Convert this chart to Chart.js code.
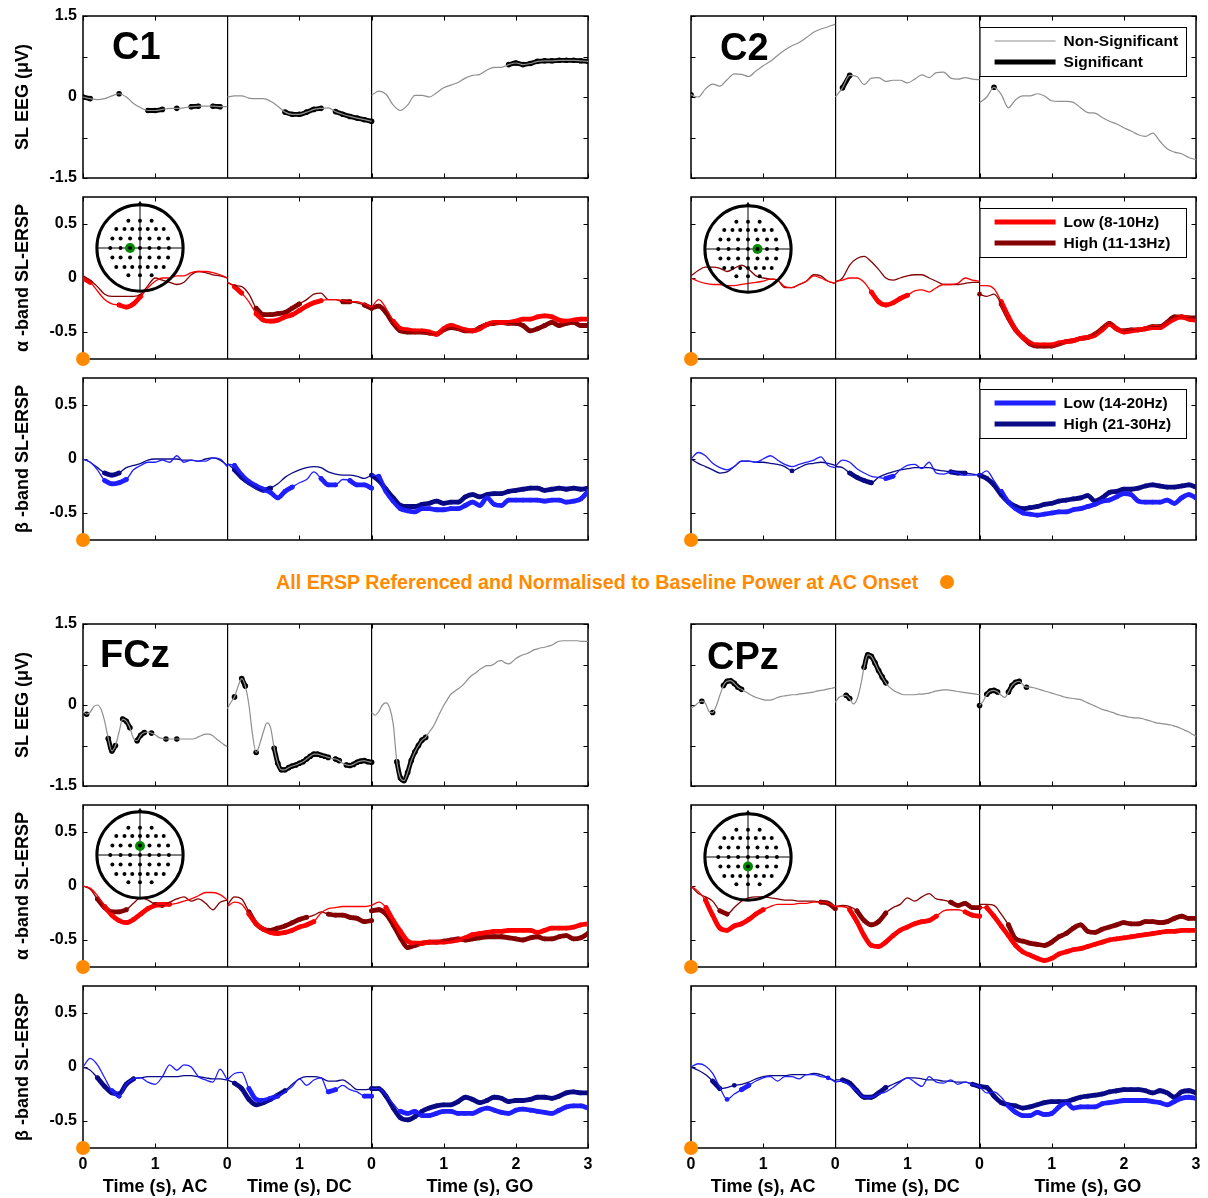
<!DOCTYPE html>
<html>
<head>
<meta charset="utf-8">
<script src="https://cdn.jsdelivr.net/npm/chart.js@4.4.0/dist/chart.umd.min.js"></script>
<style>
  body { margin: 0; background: #fff; width: 1208px; height: 1198px; position: relative; overflow: hidden;
         font-family: "Liberation Sans", Arial, Helvetica, sans-serif; }
  canvas { position: absolute; }
  #note { position: absolute; left: 276px; top: 570px; font-size: 19.7px; line-height: 24px; font-weight: bold;
          color: #ff8a00; white-space: nowrap; }
  #noteDot { position: absolute; left: 940px; top: 575px; width: 14px; height: 14px; border-radius: 50%; background: #ff8a00; }
</style>
</head>
<body>
<div id="note">All ERSP Referenced and Normalised to Baseline Power at AC Onset</div>
<span id="noteDot"></span>
<script>
"use strict";

// Time axis: three epochs laid end to end (AC 0-2 s, DC 0-2 s, GO 0-3 s)
const segStart = [0, 2, 4];
const segLength = [2, 2, 3];
const segNames = ["AC", "DC", "GO"];
const xTickLabels = ["0", "1", "0", "1", "0", "1", "2", "3"];
const eegTicks = [-1.5, -0.75, 0, 0.75, 1.5];
const eegTickLabels = ["-1.5", "", "0", "", "1.5"];
const erspTicks = [-0.5, 0, 0.5];
const erspTickLabels = ["-0.5", "0", "0.5"];

// ---- C1 ----
const c1Eeg = [
  [0.0,-0.03,-0.05,-0.03,0.02,0.06,0.0,-0.12,-0.2,-0.25,-0.25,-0.23,-0.21,-0.21,-0.2,-0.18,-0.17,-0.17,-0.17,-0.18,-0.18],
  [0.0,0.02,0.02,-0.02,-0.03,-0.03,-0.08,-0.17,-0.28,-0.32,-0.32,-0.28,-0.23,-0.21,-0.2,-0.27,-0.32,-0.36,-0.39,-0.42,-0.45],
  [0.03,0.11,0.05,-0.15,-0.25,-0.15,0.03,0.03,0.0,0.08,0.17,0.22,0.27,0.35,0.4,0.42,0.5,0.55,0.55,0.6,0.63,0.6,0.62,0.66,0.67,0.67,0.68,0.68,0.68,0.67,0.66]
];
const c1EegSig = [[0,0,0.1],[0,0.5,0.5],[0,0.9,1.1],[0,1.3,1.3],[0,1.5,1.6],[0,1.8,1.9],[1,0.8,1.3],[1,1.5,2.0],[2,1.9,3.0]];
const c1AlphaLow = [
  [0.0,-0.04,-0.12,-0.2,-0.24,-0.25,-0.27,-0.24,-0.17,-0.09,-0.03,0.0,0.0,0.02,0.02,0.05,0.06,0.06,0.05,0.03,0.0],
  [-0.04,-0.08,-0.14,-0.22,-0.33,-0.39,-0.4,-0.39,-0.36,-0.34,-0.3,-0.26,-0.23,-0.21,-0.2,-0.2,-0.21,-0.22,-0.22,-0.24,-0.27],
  [-0.27,-0.2,-0.28,-0.4,-0.47,-0.48,-0.49,-0.49,-0.5,-0.52,-0.47,-0.44,-0.46,-0.48,-0.49,-0.47,-0.43,-0.41,-0.41,-0.41,-0.4,-0.38,-0.38,-0.36,-0.35,-0.36,-0.39,-0.4,-0.39,-0.38,-0.38]
];
const c1AlphaLowSig = [[0,0,0.15],[0,0.5,0.85],[1,0.1,0.2],[1,0.4,1.3],[2,0.3,3.0]];
const c1AlphaHigh = [
  [0.02,-0.02,-0.08,-0.15,-0.17,-0.17,-0.17,-0.17,-0.15,-0.07,0.0,-0.02,-0.04,-0.06,-0.04,0.03,0.06,0.05,0.03,0.02,0.0],
  [-0.04,-0.07,-0.08,-0.15,-0.28,-0.34,-0.34,-0.33,-0.32,-0.28,-0.24,-0.2,-0.15,-0.14,-0.2,-0.2,-0.22,-0.22,-0.23,-0.25,-0.28],
  [-0.28,-0.26,-0.32,-0.42,-0.49,-0.5,-0.5,-0.5,-0.51,-0.52,-0.48,-0.46,-0.47,-0.49,-0.49,-0.46,-0.43,-0.42,-0.41,-0.42,-0.42,-0.44,-0.49,-0.47,-0.44,-0.41,-0.44,-0.42,-0.41,-0.44,-0.44]
];
const c1AlphaHighSig = [[1,0.4,1.0],[1,1.6,1.7],[1,1.9,2.0],[2,0,3.0]];
const c1BetaLow = [
  [0.0,-0.03,-0.1,-0.2,-0.23,-0.22,-0.19,-0.1,-0.06,-0.03,-0.03,-0.01,-0.03,0.03,-0.03,-0.01,-0.02,-0.02,0.01,0.0,-0.07],
  [-0.05,-0.06,-0.15,-0.21,-0.25,-0.28,-0.31,-0.36,-0.3,-0.26,-0.22,-0.19,-0.12,-0.18,-0.24,-0.24,-0.19,-0.2,-0.24,-0.24,-0.27],
  [-0.15,-0.16,-0.3,-0.39,-0.46,-0.48,-0.49,-0.46,-0.46,-0.47,-0.47,-0.46,-0.46,-0.43,-0.4,-0.43,-0.36,-0.42,-0.43,-0.38,-0.38,-0.38,-0.38,-0.38,-0.39,-0.38,-0.38,-0.4,-0.39,-0.37,-0.3]
];
const c1BetaLowSig = [[0,0.25,0.65],[1,0.1,0.9],[1,1.3,1.5],[1,1.7,1.8],[1,1.9,2.0],[2,0.05,3.0]];
const c1BetaHigh = [
  [0.0,-0.03,-0.08,-0.13,-0.15,-0.13,-0.08,-0.06,-0.04,-0.01,0.0,0.0,0.0,0.0,-0.01,-0.01,-0.02,0.0,0.01,-0.01,-0.06],
  [-0.04,-0.1,-0.17,-0.22,-0.26,-0.29,-0.27,-0.23,-0.17,-0.13,-0.1,-0.08,-0.07,-0.08,-0.12,-0.14,-0.15,-0.15,-0.16,-0.18,-0.15],
  [-0.15,-0.2,-0.28,-0.36,-0.43,-0.44,-0.44,-0.42,-0.41,-0.39,-0.41,-0.4,-0.4,-0.35,-0.33,-0.35,-0.33,-0.32,-0.32,-0.3,-0.29,-0.28,-0.27,-0.27,-0.29,-0.28,-0.27,-0.28,-0.27,-0.28,-0.27]
];
const c1BetaHighSig = [[0,0.25,0.55],[1,0.1,0.6],[2,0,3.0]];

// ---- C2 ----
const c2Eeg = [
  [0.04,0.0,0.15,0.24,0.2,0.32,0.43,0.42,0.38,0.48,0.58,0.66,0.77,0.87,0.95,1.01,1.1,1.2,1.26,1.3,1.35],
  [0.0,0.17,0.4,0.38,0.23,0.35,0.36,0.29,0.31,0.31,0.26,0.33,0.41,0.36,0.45,0.46,0.35,0.33,0.36,0.33,0.32],
  [-0.11,0.0,0.18,0.05,-0.2,-0.05,0.02,0.02,0.06,0.02,-0.07,-0.08,-0.08,-0.1,-0.2,-0.29,-0.3,-0.38,-0.45,-0.5,-0.57,-0.63,-0.7,-0.73,-0.67,-0.82,-0.96,-1.02,-1.05,-1.12,-1.16]
];
const c2EegSig = [[0,0,0],[1,0.1,0.2],[2,0.2,0.2]];
const c2AlphaLow = [
  [0.0,-0.03,-0.05,-0.06,-0.06,-0.07,-0.07,-0.06,-0.05,-0.04,-0.03,-0.01,-0.02,-0.08,-0.09,-0.06,-0.03,0.02,0.0,-0.03,-0.05],
  [-0.03,-0.02,0.0,0.0,-0.04,-0.13,-0.22,-0.25,-0.23,-0.19,-0.16,-0.12,-0.11,-0.13,-0.09,-0.06,-0.06,-0.05,0.0,-0.02,-0.03],
  [-0.07,-0.07,-0.1,-0.22,-0.36,-0.48,-0.55,-0.6,-0.62,-0.62,-0.62,-0.6,-0.59,-0.58,-0.56,-0.55,-0.53,-0.48,-0.43,-0.47,-0.5,-0.49,-0.48,-0.47,-0.46,-0.46,-0.42,-0.38,-0.36,-0.38,-0.39]
];
const c2AlphaLowSig = [[1,0.5,1.0],[2,0.3,3.0]];
const c2AlphaHigh = [
  [0.02,0.07,0.1,0.1,0.09,0.06,0.09,0.12,0.08,0.02,0.0,-0.01,-0.02,-0.09,-0.09,-0.06,-0.03,0.03,0.02,-0.03,-0.05],
  [-0.04,0.0,0.12,0.18,0.2,0.15,0.08,0.0,-0.02,0.0,0.02,0.03,0.03,0.0,-0.03,-0.06,-0.06,-0.06,-0.05,-0.04,-0.04],
  [-0.15,-0.17,-0.15,-0.24,-0.37,-0.48,-0.55,-0.61,-0.63,-0.63,-0.63,-0.61,-0.59,-0.58,-0.56,-0.55,-0.52,-0.47,-0.42,-0.47,-0.49,-0.48,-0.48,-0.47,-0.45,-0.45,-0.41,-0.36,-0.36,-0.37,-0.37]
];
const c2AlphaHighSig = [[2,0,0],[2,0.3,3.0]];
const c2BetaLow = [
  [0.0,0.06,0.03,-0.04,-0.08,-0.1,-0.07,-0.02,-0.02,-0.03,0.0,0.03,-0.01,-0.05,-0.07,-0.05,-0.03,-0.01,0.02,-0.06,-0.08],
  [-0.07,-0.01,-0.03,-0.09,-0.13,-0.16,-0.17,-0.18,-0.16,-0.1,-0.06,-0.05,-0.09,-0.03,-0.13,-0.14,-0.12,-0.13,-0.15,-0.15,-0.14],
  [-0.15,-0.11,-0.2,-0.3,-0.4,-0.46,-0.5,-0.51,-0.52,-0.51,-0.5,-0.49,-0.49,-0.47,-0.46,-0.44,-0.42,-0.39,-0.38,-0.35,-0.32,-0.33,-0.39,-0.4,-0.4,-0.4,-0.38,-0.41,-0.36,-0.33,-0.36]
];
const c2BetaLowSig = [[1,0.7,0.8],[2,0.25,3.0]];
const c2BetaHigh = [
  [0.0,-0.04,-0.07,-0.1,-0.13,-0.12,-0.07,-0.02,-0.02,-0.03,-0.03,-0.04,-0.05,-0.07,-0.11,-0.08,-0.05,-0.04,-0.03,-0.04,-0.06],
  [-0.07,-0.08,-0.13,-0.17,-0.2,-0.22,-0.17,-0.14,-0.12,-0.1,-0.09,-0.08,-0.08,-0.08,-0.1,-0.11,-0.12,-0.13,-0.13,-0.14,-0.15],
  [-0.15,-0.18,-0.24,-0.33,-0.4,-0.44,-0.46,-0.45,-0.44,-0.42,-0.41,-0.39,-0.38,-0.37,-0.36,-0.34,-0.39,-0.36,-0.31,-0.3,-0.28,-0.28,-0.27,-0.25,-0.24,-0.25,-0.26,-0.26,-0.25,-0.24,-0.26]
];
const c2BetaHighSig = [[0,1.4,1.4],[1,0.2,0.5],[1,1.6,1.8],[2,0,3.0]];

// ---- FCz ---- (EEG sampled every 0.05 s)
const fczEeg = [
  [-0.12,-0.17,-0.13,-0.03,0.0,-0.08,-0.3,-0.62,-0.85,-0.75,-0.5,-0.26,-0.3,-0.42,-0.62,-0.66,-0.56,-0.51,-0.5,-0.52,-0.55,-0.6,-0.62,-0.63,-0.63,-0.63,-0.63,-0.63,-0.63,-0.63,-0.63,-0.62,-0.59,-0.56,-0.54,-0.54,-0.57,-0.63,-0.68,-0.73,-0.77],
  [-0.07,0.05,0.15,0.35,0.49,0.35,0.0,-0.55,-0.88,-0.72,-0.5,-0.33,-0.42,-0.8,-1.08,-1.2,-1.2,-1.16,-1.13,-1.11,-1.08,-1.05,-1.0,-0.95,-0.91,-0.91,-0.93,-0.95,-0.97,-0.99,-1.0,-1.03,-1.08,-1.11,-1.12,-1.1,-1.06,-1.04,-1.03,-1.05,-1.06],
  [-0.14,-0.19,-0.12,0.0,0.04,-0.05,-0.35,-1.05,-1.35,-1.4,-1.25,-1.03,-0.87,-0.75,-0.65,-0.6,-0.5,-0.41,-0.28,-0.14,-0.01,0.1,0.2,0.25,0.3,0.35,0.42,0.5,0.56,0.6,0.66,0.7,0.73,0.73,0.76,0.81,0.82,0.78,0.76,0.8,0.86,0.9,0.93,0.95,0.98,1.02,1.04,1.06,1.07,1.09,1.11,1.15,1.18,1.19,1.19,1.19,1.19,1.19,1.18,1.18,1.18]
];
const fczEegSig = [[0,0.05,0.05],[0,0.35,0.45],[0,0.55,0.65],[0,0.75,0.85],[0,0.95,0.95],[0,1.15,1.15],[0,1.3,1.3],
  [1,0.1,0.1],[1,0.2,0.25],[1,0.4,0.4],[1,0.65,1.4],[1,1.5,1.55],[1,1.65,2.0],[2,0.35,0.75]];
const fczAlphaLow = [
  [0.0,-0.02,-0.09,-0.19,-0.27,-0.32,-0.34,-0.31,-0.26,-0.21,-0.18,-0.17,-0.17,-0.16,-0.14,-0.12,-0.09,-0.06,-0.06,-0.08,-0.13],
  [-0.19,-0.15,-0.17,-0.26,-0.35,-0.4,-0.43,-0.44,-0.43,-0.41,-0.38,-0.36,-0.33,-0.25,-0.21,-0.2,-0.19,-0.19,-0.19,-0.19,-0.18],
  [-0.18,-0.15,-0.2,-0.32,-0.42,-0.51,-0.53,-0.53,-0.52,-0.52,-0.52,-0.51,-0.5,-0.48,-0.45,-0.44,-0.43,-0.42,-0.42,-0.41,-0.41,-0.41,-0.41,-0.43,-0.41,-0.39,-0.39,-0.39,-0.38,-0.36,-0.35]
];
const fczAlphaLowSig = [[0,0.3,1.2],[1,0.3,1.25],[2,0.2,3.0]];
const fczAlphaHigh = [
  [0.0,-0.03,-0.12,-0.2,-0.24,-0.24,-0.22,-0.16,-0.11,-0.13,-0.17,-0.18,-0.15,-0.12,-0.1,-0.14,-0.12,-0.16,-0.22,-0.15,-0.13],
  [-0.18,-0.1,-0.12,-0.24,-0.35,-0.4,-0.41,-0.39,-0.37,-0.34,-0.31,-0.29,-0.27,-0.24,-0.26,-0.27,-0.27,-0.29,-0.3,-0.33,-0.32],
  [-0.23,-0.22,-0.26,-0.36,-0.48,-0.57,-0.55,-0.53,-0.52,-0.52,-0.51,-0.5,-0.49,-0.5,-0.49,-0.48,-0.47,-0.47,-0.47,-0.48,-0.49,-0.5,-0.48,-0.47,-0.49,-0.49,-0.47,-0.46,-0.49,-0.48,-0.44]
];
const fczAlphaHighSig = [[0,0.2,0.6],[0,0.95,1.1],[1,0.25,1.1],[1,1.4,1.5],[1,1.6,1.8],[1,1.9,2.0],[2,0,3.0]];
const fczBetaLow = [
  [0.0,0.08,0.02,-0.1,-0.22,-0.27,-0.16,-0.11,-0.1,-0.14,-0.16,-0.09,0.02,-0.03,0.02,0.0,-0.09,-0.12,-0.14,-0.02,-0.12],
  [-0.12,-0.06,-0.05,-0.2,-0.3,-0.31,-0.29,-0.27,-0.23,-0.18,-0.11,-0.17,-0.12,-0.1,-0.23,-0.21,-0.17,-0.21,-0.23,-0.27,-0.27],
  [-0.2,-0.2,-0.26,-0.34,-0.41,-0.43,-0.41,-0.45,-0.45,-0.43,-0.41,-0.41,-0.43,-0.43,-0.43,-0.4,-0.38,-0.4,-0.42,-0.43,-0.4,-0.39,-0.4,-0.41,-0.42,-0.43,-0.4,-0.37,-0.36,-0.36,-0.38]
];
const fczBetaLowSig = [[0,0.4,0.5],[1,0.3,0.7],[1,1.4,1.5],[1,1.9,2.0],[2,0.35,3.0]];
const fczBetaHigh = [
  [0.0,-0.03,-0.1,-0.18,-0.24,-0.25,-0.16,-0.11,-0.1,-0.09,-0.09,-0.09,-0.09,-0.09,-0.08,-0.08,-0.09,-0.1,-0.11,-0.11,-0.12],
  [-0.12,-0.15,-0.2,-0.3,-0.35,-0.33,-0.3,-0.26,-0.22,-0.16,-0.11,-0.09,-0.09,-0.1,-0.13,-0.13,-0.12,-0.16,-0.21,-0.21,-0.2],
  [-0.2,-0.2,-0.27,-0.38,-0.47,-0.49,-0.46,-0.41,-0.38,-0.36,-0.35,-0.35,-0.32,-0.28,-0.3,-0.33,-0.31,-0.28,-0.29,-0.32,-0.31,-0.31,-0.3,-0.28,-0.28,-0.29,-0.27,-0.24,-0.23,-0.24,-0.24]
];
const fczBetaHighSig = [[0,0.2,0.7],[1,0.1,0.85],[2,0,3.0]];

// ---- CPz ---- (EEG sampled every 0.05 s)
const cpzEeg = [
  [-0.06,-0.02,0.04,0.07,0.03,-0.12,-0.14,-0.02,0.18,0.36,0.44,0.45,0.4,0.33,0.29,0.25,0.21,0.17,0.14,0.12,0.1,0.09,0.09,0.11,0.14,0.16,0.17,0.18,0.19,0.19,0.2,0.21,0.22,0.23,0.24,0.26,0.27,0.28,0.3,0.31,0.33],
  [0.05,0.14,0.17,0.18,0.12,0.02,0.1,0.35,0.7,0.93,0.9,0.78,0.64,0.52,0.41,0.33,0.28,0.24,0.21,0.19,0.19,0.19,0.19,0.2,0.2,0.21,0.22,0.24,0.26,0.27,0.28,0.28,0.27,0.26,0.25,0.24,0.23,0.22,0.21,0.2,0.19],
  [-0.01,0.07,0.2,0.26,0.27,0.24,0.18,0.14,0.24,0.36,0.42,0.44,0.38,0.33,0.33,0.32,0.3,0.28,0.26,0.24,0.22,0.2,0.18,0.16,0.14,0.13,0.12,0.11,0.1,0.07,0.04,0.01,-0.02,-0.05,-0.08,-0.1,-0.12,-0.14,-0.17,-0.19,-0.2,-0.22,-0.23,-0.24,-0.24,-0.25,-0.27,-0.29,-0.31,-0.33,-0.34,-0.35,-0.36,-0.37,-0.39,-0.41,-0.44,-0.47,-0.5,-0.54,-0.58]
];
const cpzEegSig = [[0,0.15,0.15],[0,0.3,0.3],[0,0.45,0.7],[1,0.15,0.2],[1,0.4,0.7],[2,0,0],[2,0.1,0.25],[2,0.4,0.55],[2,0.65,0.65]];
const cpzAlphaLow = [
  [0.0,-0.05,-0.13,-0.27,-0.39,-0.41,-0.37,-0.35,-0.31,-0.26,-0.22,-0.19,-0.17,-0.17,-0.17,-0.16,-0.16,-0.15,-0.15,-0.16,-0.19],
  [-0.19,-0.19,-0.22,-0.33,-0.46,-0.55,-0.56,-0.52,-0.46,-0.41,-0.38,-0.35,-0.33,-0.32,-0.28,-0.23,-0.22,-0.22,-0.24,-0.27,-0.28],
  [-0.2,-0.2,-0.28,-0.37,-0.46,-0.55,-0.61,-0.64,-0.67,-0.69,-0.67,-0.63,-0.61,-0.59,-0.58,-0.56,-0.54,-0.52,-0.5,-0.49,-0.48,-0.47,-0.46,-0.45,-0.44,-0.43,-0.42,-0.42,-0.41,-0.41,-0.41]
];
const cpzAlphaLowSig = [[0,0.15,1.0],[1,0.2,1.45],[1,1.75,2.0],[2,0.1,3.0]];
const cpzAlphaHigh = [
  [0.0,-0.07,-0.1,-0.14,-0.23,-0.26,-0.2,-0.14,-0.11,-0.1,-0.1,-0.11,-0.12,-0.13,-0.13,-0.14,-0.14,-0.14,-0.15,-0.16,-0.21],
  [-0.19,-0.18,-0.19,-0.23,-0.32,-0.36,-0.33,-0.25,-0.2,-0.17,-0.11,-0.14,-0.1,-0.07,-0.12,-0.13,-0.15,-0.18,-0.16,-0.2,-0.2],
  [-0.17,-0.17,-0.18,-0.26,-0.36,-0.49,-0.51,-0.53,-0.54,-0.55,-0.52,-0.47,-0.44,-0.39,-0.36,-0.42,-0.43,-0.4,-0.38,-0.36,-0.34,-0.35,-0.35,-0.33,-0.33,-0.34,-0.33,-0.3,-0.28,-0.3,-0.3]
];
const cpzAlphaHighSig = [[0,0.4,0.55],[0,1.8,2.0],[1,0.3,0.7],[1,1.55,2.0],[2,0.35,3.0]];
const cpzBetaLow = [
  [0.0,0.03,0.01,-0.06,-0.19,-0.3,-0.25,-0.21,-0.17,-0.13,-0.1,-0.09,-0.13,-0.09,-0.09,-0.11,-0.07,-0.07,-0.09,-0.1,-0.14],
  [-0.14,-0.13,-0.17,-0.22,-0.28,-0.28,-0.25,-0.23,-0.19,-0.14,-0.1,-0.14,-0.18,-0.09,-0.14,-0.15,-0.12,-0.16,-0.14,-0.16,-0.18],
  [-0.18,-0.24,-0.23,-0.28,-0.36,-0.42,-0.45,-0.45,-0.42,-0.44,-0.43,-0.37,-0.33,-0.38,-0.37,-0.37,-0.37,-0.34,-0.33,-0.32,-0.31,-0.31,-0.31,-0.31,-0.32,-0.33,-0.35,-0.32,-0.29,-0.28,-0.29]
];
const cpzBetaLowSig = [[0,0.45,0.55],[0,0.7,0.85],[0,1.85,1.95],[2,0.4,3.0]];
const cpzBetaHigh = [
  [0.0,-0.03,-0.07,-0.13,-0.2,-0.19,-0.17,-0.16,-0.14,-0.11,-0.09,-0.08,-0.08,-0.08,-0.07,-0.07,-0.07,-0.06,-0.07,-0.1,-0.13],
  [-0.12,-0.12,-0.15,-0.22,-0.28,-0.28,-0.24,-0.19,-0.16,-0.13,-0.1,-0.1,-0.11,-0.12,-0.12,-0.13,-0.13,-0.14,-0.14,-0.16,-0.18],
  [-0.18,-0.19,-0.27,-0.33,-0.35,-0.36,-0.38,-0.37,-0.35,-0.33,-0.32,-0.32,-0.32,-0.3,-0.28,-0.27,-0.26,-0.25,-0.23,-0.22,-0.21,-0.21,-0.21,-0.22,-0.24,-0.22,-0.24,-0.28,-0.23,-0.22,-0.24]
];
const cpzBetaHighSig = [[0,0.3,0.45],[0,0.6,0.6],[1,0.1,0.7],[1,1.9,2.0],[2,0,3.0]];

// Electrode montage of the head insets (x right, y towards the nose), in head radii
const electrodeRowY = [0.63, 0.44, 0.22, 0, -0.22, -0.44, -0.63];
const electrodeRowX = [
  [-0.27, 0, 0.27],
  [-0.55, -0.36, -0.18, 0, 0.18, 0.37, 0.55],
  [-0.64, -0.45, -0.23, 0, 0.22, 0.44, 0.65],
  [-0.69, -0.45, -0.23, 0, 0.22, 0.44, 0.67],
  [-0.64, -0.45, -0.23, 0, 0.22, 0.44, 0.65],
  [-0.55, -0.36, -0.18, 0, 0.18, 0.37, 0.55],
  [-0.27, 0, 0.27]
];
const siteC1 = [-0.23, 0], siteC2 = [0.22, 0], siteFCz = [0, 0.21], siteCPz = [0, -0.22];

// ---- styles ----
const RED = "#ff0000", DARK_RED = "#850000", BLUE = "#1f1fff", NAVY = "#0a0a85", GREY = "#8f8f8f", ORANGE = "#ff8a00";
const FONT = "'Liberation Sans', Arial, Helvetica, sans-serif";
Chart.defaults.font.family = FONT;
Chart.defaults.font.weight = "bold";
Chart.defaults.color = "#000";

const PT = 12, PR = 10, PH = 162, PW = 505;

const groups = [
  { name: "C1", left: 83, tops: [16, 197, 378], showY: true, showX: false, legend: false, labelPos: [29, 43], head: [140, 248], site: siteC1,
    eeg: [c1Eeg, c1EegSig], alpha: [c1AlphaLow, c1AlphaLowSig, c1AlphaHigh, c1AlphaHighSig], beta: [c1BetaLow, c1BetaLowSig, c1BetaHigh, c1BetaHighSig] },
  { name: "C2", left: 691, tops: [16, 197, 378], showY: false, showX: false, legend: true, labelPos: [29, 44], head: [748, 249], site: siteC2,
    eeg: [c2Eeg, c2EegSig], alpha: [c2AlphaLow, c2AlphaLowSig, c2AlphaHigh, c2AlphaHighSig], beta: [c2BetaLow, c2BetaLowSig, c2BetaHigh, c2BetaHighSig] },
  { name: "FCz", left: 83, tops: [624, 805, 986], showY: true, showX: true, legend: false, labelPos: [17, 43], head: [140, 855], site: siteFCz,
    eeg: [fczEeg, fczEegSig], alpha: [fczAlphaLow, fczAlphaLowSig, fczAlphaHigh, fczAlphaHighSig], beta: [fczBetaLow, fczBetaLowSig, fczBetaHigh, fczBetaHighSig] },
  { name: "CPz", left: 691, tops: [624, 805, 986], showY: false, showX: true, legend: false, labelPos: [16, 45], head: [748, 857], site: siteCPz,
    eeg: [cpzEeg, cpzEegSig], alpha: [cpzAlphaLow, cpzAlphaLowSig, cpzAlphaHigh, cpzAlphaHighSig], beta: [cpzBetaLow, cpzBetaLowSig, cpzBetaHigh, cpzBetaHighSig] }
];

const legends = [
  [{ text: "Non-Significant", color: GREY, width: 1.2 }, { text: "Significant", color: "#000", width: 5 }],
  [{ text: "Low (8-10Hz)", color: RED, width: 5 }, { text: "High (11-13Hz)", color: DARK_RED, width: 5 }],
  [{ text: "Low (14-20Hz)", color: BLUE, width: 5 }, { text: "High (21-30Hz)", color: NAVY, width: 5 }]
];
const yTitles = ["SL EEG (\u03bcV)", "\u03b1 -band SL-ERSP", "\u03b2 -band SL-ERSP"];

// curve -> {x, y} points; with sig only the significant samples are kept
function toPoints(curve, sig) {
  const pts = [];
  curve.forEach((seg, s) => {
    const step = segLength[s] / (seg.length - 1);
    seg.forEach((v, i) => {
      const t = i * step;
      let y = v;
      if (sig && !sig.some(r => r[0] === s && t >= r[1] - 1e-6 && t <= r[2] + 1e-6)) y = null;
      pts.push({ x: segStart[s] + t, y: y });
    });
    pts.push({ x: segStart[s] + segLength[s], y: null });
  });
  return pts;
}

function thinSet(curve, color, width) {
  return { data: toPoints(curve, null), borderColor: color, borderWidth: width, pointRadius: 0,
           cubicInterpolationMode: "monotone", spanGaps: false, clip: 0 };
}
function thickSet(curve, sig, color, radius) {
  return { data: toPoints(curve, sig), borderColor: color, backgroundColor: color, borderWidth: 4.8,
           pointRadius: radius, pointBorderWidth: 0, pointBackgroundColor: color,
           borderCapStyle: "round", borderJoinStyle: "round", cubicInterpolationMode: "monotone", spanGaps: false, clip: 0 };
}

function makeCanvas(left, top, width, height) {
  const cv = document.createElement("canvas");
  cv.width = width; cv.height = height;
  cv.style.left = left + "px"; cv.style.top = top + "px";
  cv.style.width = width + "px"; cv.style.height = height + "px";
  document.body.appendChild(cv);
  return cv;
}

function decorPlugin(g, row) {
  return {
    id: "decor",
    beforeDatasetsDraw(chart) {
      const { ctx, chartArea: a, scales: { x, y } } = chart;
      ctx.save();
      ctx.strokeStyle = "#000";
      ctx.lineWidth = 1;
      ctx.beginPath();
      x.ticks.forEach(t => {
        const px = Math.round(x.getPixelForValue(t.value)) + 0.5;
        ctx.moveTo(px, a.top); ctx.lineTo(px, a.top + 4.5);
        ctx.moveTo(px, a.bottom); ctx.lineTo(px, a.bottom - 4.5);
      });
      y.ticks.forEach(t => {
        const py = Math.round(y.getPixelForValue(t.value)) + 0.5;
        ctx.moveTo(a.left, py); ctx.lineTo(a.left + 4.5, py);
        ctx.moveTo(a.right, py); ctx.lineTo(a.right - 4.5, py);
      });
      ctx.stroke();
      ctx.lineWidth = 1.5;
      ctx.strokeRect(a.left, a.top, a.right - a.left, a.bottom - a.top);
      ctx.restore();
    },
    afterDatasetsDraw(chart) {
      const { ctx, chartArea: a, scales: { x } } = chart;
      ctx.save();
      if (row === 0) {
        ctx.fillStyle = "#000";
        ctx.font = "bold 38px " + FONT;
        ctx.textBaseline = "alphabetic";
        ctx.fillText(g.name, a.left + g.labelPos[0], a.top + g.labelPos[1]);
      }
      if (g.legend) {
        const x0 = x.getPixelForValue(segStart[2]), x1 = a.right - 10;
        const y0 = a.top + 11, y1 = a.top + 60;
        ctx.fillStyle = "#fff";
        ctx.fillRect(x0, y0, x1 - x0, y1 - y0);
        ctx.strokeStyle = "#000"; ctx.lineWidth = 1;
        ctx.strokeRect(x0 + 0.5, y0 + 0.5, x1 - x0, y1 - y0);
        ctx.font = "bold 15.5px " + FONT;
        ctx.textBaseline = "middle";
        legends[row].forEach((it, k) => {
          const ly = y0 + 14 + k * 21;
          ctx.strokeStyle = it.color; ctx.lineWidth = it.width;
          ctx.beginPath(); ctx.moveTo(x0 + 15, ly); ctx.lineTo(x0 + 76, ly); ctx.stroke();
          ctx.fillStyle = "#000";
          ctx.fillText(it.text, x0 + 84, ly + 1);
        });
      }
      if (row === 2 && g.showX) {
        ctx.fillStyle = "#000";
        ctx.font = "bold 18px " + FONT;
        ctx.textAlign = "center";
        ctx.textBaseline = "middle";
        segNames.forEach((n, s) => {
          ctx.fillText("Time (s), " + n, x.getPixelForValue(segStart[s] + segLength[s] / 2), a.bottom + 39);
        });
      }
      ctx.restore();
    }
  };
}

function drawPanel(g, row) {
  const axisW = g.showY ? 83 : 12;
  const withX = row === 2 && g.showX;
  const xb = withX ? 60 : 12;
  const T = g.tops[row];
  const cv = makeCanvas(g.left - axisW, T - PT, axisW + PW + PR, PT + PH + xb);
  const eeg = row === 0;
  const yMin = eeg ? -1.5 : -0.75, yMax = eeg ? 1.5 : 0.75;
  const yTicks = eeg ? eegTicks : erspTicks;
  const yLabels = eeg ? eegTickLabels : erspTickLabels;

  let datasets;
  if (eeg) {
    datasets = [thinSet(g.eeg[0], GREY, 1.2), thickSet(g.eeg[0], g.eeg[1], "#000", 2.8)];
  } else {
    const d = row === 1 ? g.alpha : g.beta;
    const lo = row === 1 ? RED : BLUE, hi = row === 1 ? DARK_RED : NAVY;
    datasets = [thinSet(d[0], lo, 1.3), thinSet(d[2], hi, 1.3), thickSet(d[0], d[1], lo, 2.4), thickSet(d[2], d[3], hi, 2.4),
      { data: [{ x: 0, y: yMin }], showLine: false, pointRadius: 7, pointBackgroundColor: ORANGE, pointBorderWidth: 0, clip: false }];
  }

  new Chart(cv, {
    type: "line",
    data: { datasets },
    options: {
      responsive: false, animation: false, devicePixelRatio: 1,
      layout: { padding: { top: PT, right: PR, left: 0, bottom: 0 } },
      plugins: { legend: { display: false }, tooltip: { enabled: false } },
      scales: {
        x: {
          type: "linear", min: 0, max: 7,
          afterBuildTicks: s => { s.ticks = xTickLabels.map((_, i) => ({ value: i })); },
          afterFit: s => { s.height = xb; s.paddingLeft = 0; s.paddingRight = 0; },
          ticks: { display: withX, autoSkip: false, maxRotation: 0, padding: 7, font: { size: 16, weight: "bold" },
                   callback: (v, i) => xTickLabels[i] },
          grid: { drawTicks: false, lineWidth: 1.2,
                  color: c => (c.tick && (c.tick.value === 2 || c.tick.value === 4)) ? "#000" : "rgba(0,0,0,0)" },
          border: { display: false }
        },
        y: {
          type: "linear", min: yMin, max: yMax,
          afterBuildTicks: s => { s.ticks = yTicks.map(v => ({ value: v })); },
          afterFit: s => { s.width = axisW; s.paddingTop = 0; s.paddingBottom = 0; },
          ticks: { display: g.showY, padding: 6, font: { size: 16, weight: "bold" }, callback: (v, i) => yLabels[i] },
          grid: { display: false, drawTicks: false },
          border: { display: false },
          title: { display: g.showY, text: yTitles[row], font: { size: 18, weight: "bold" }, padding: { top: 12, bottom: 0 } }
        }
      }
    },
    plugins: [decorPlugin(g, row)]
  });
}

const headOutline = {
  id: "headOutline",
  beforeDatasetsDraw(chart) {
    const { ctx, scales: { x, y } } = chart;
    const cx = x.getPixelForValue(0), cy = y.getPixelForValue(0);
    const rx = x.getPixelForValue(1) - cx, ry = cy - y.getPixelForValue(1);
    ctx.save();
    ctx.strokeStyle = "#000";
    ctx.fillStyle = "#000";
    ctx.lineWidth = 1;
    ctx.beginPath();
    ctx.moveTo(cx - rx, cy); ctx.lineTo(cx + rx, cy);
    ctx.moveTo(cx, cy - ry); ctx.lineTo(cx, cy + ry);
    ctx.stroke();
    ctx.lineWidth = 3;
    ctx.beginPath();
    ctx.ellipse(cx, cy, rx, ry, 0, 0, Math.PI * 2);
    ctx.stroke();
    ctx.beginPath();
    ctx.moveTo(cx - 3, cy - ry + 1); ctx.lineTo(cx + 3, cy - ry + 1); ctx.lineTo(cx, cy - ry - 4);
    ctx.closePath(); ctx.fill();
    ctx.restore();
  }
};

function drawHead(g) {
  const S = 106, lim = 1.113;
  const cv = makeCanvas(g.head[0] - S / 2, g.head[1] - S / 2, S, S);
  const pts = [];
  electrodeRowY.forEach((yy, r) => electrodeRowX[r].forEach(xx => pts.push({ x: xx, y: yy })));
  new Chart(cv, {
    type: "scatter",
    data: { datasets: [
      { data: pts, pointRadius: 2, pointBackgroundColor: "#000", pointBorderWidth: 0 },
      { data: [{ x: g.site[0], y: g.site[1] }], pointRadius: 5, pointBackgroundColor: "#008a00", pointBorderWidth: 0 }
    ] },
    options: {
      responsive: false, animation: false, devicePixelRatio: 1,
      layout: { padding: 0 },
      plugins: { legend: { display: false }, tooltip: { enabled: false } },
      scales: { x: { type: "linear", min: -lim, max: lim, display: false }, y: { type: "linear", min: -lim, max: lim, display: false } }
    },
    plugins: [headOutline]
  });
}

groups.forEach(g => {
  [0, 1, 2].forEach(row => drawPanel(g, row));
  drawHead(g);
});
</script>
</body>
</html>
